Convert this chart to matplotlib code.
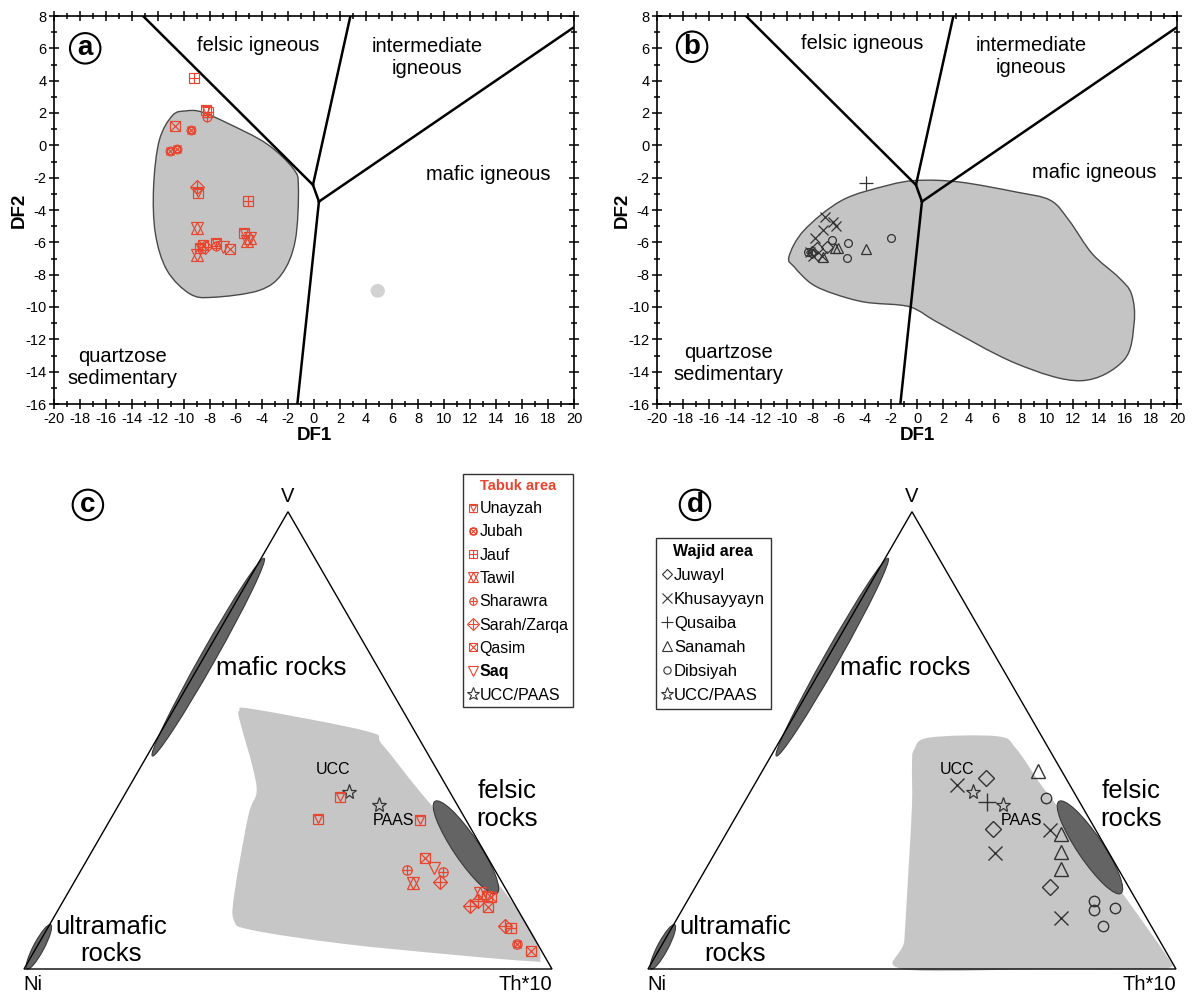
import numpy as np
import matplotlib.pyplot as plt
from matplotlib.path import Path
from matplotlib.patches import PathPatch, Ellipse, Polygon
from matplotlib.lines import Line2D
from matplotlib.legend_handler import HandlerTuple

plt.rcParams['font.family'] = ['Liberation Sans', 'DejaVu Sans']
plt.rcParams['axes.unicode_minus'] = False

RED = '#e8452f'
DARK = '#333333'
FIELD = '#c4c4c4'

# ---------------- DF1 / DF2 values, panel a (Tabuk area) ----------------
unayzah_df = [(-8.33, 2.19), (-8.9, -2.97), (-8.77, -6.37), (-7.54, -6.02), (-5.36, -5.44)]
jubah_df = [(-9.49, 0.95), (-11.08, -0.33), (-10.56, -0.2)]
jauf_df = [(-9.23, 4.17), (-8.18, 2.08), (-5.05, -3.42)]
tawil_df = [(-8.97, -5.13), (-9.02, -6.78), (-4.92, -5.71), (-5.15, -5.9)]
sharawra_df = [(-8.25, 1.77), (-7.55, -6.25)]
sarah_df = [(-8.97, -2.56), (-8.38, -6.27)]
qasim_df = [(-10.69, 1.2), (-8.55, -6.15), (-6.46, -6.43)]
saq_df = [(-7.03, -6.27)]

# ---------------- DF1 / DF2 values, panel b (Wajid area) ----------------
juwayl_df = [(-7.72, -6.37), (-6.95, -6.27), (-8.1, -6.58)]
khusayyayn_df = [(-7.08, -4.41), (-6.44, -4.72), (-6.23, -4.99), (-7.2, -5.23),
                 (-7.85, -5.75), (-8.23, -6.58), (-7.33, -6.84), (-7.98, -6.84)]
qusaiba_df = [(-3.92, -2.31)]
sanamah_df = [(-3.92, -6.43), (-6.31, -6.37), (-6.05, -6.37), (-7.2, -6.89)]
dibsiyah_df = [(-6.56, -5.85), (-5.33, -6.06), (-5.41, -6.99), (-2.0, -5.75),
               (-8.36, -6.58), (-8.1, -6.68)]

# discriminant field boundaries (DF1, DF2)
bound_felsic = [(-13.15, 8), (-0.08, -2.45)]
bound_inter = [(2.8, 8), (-0.08, -2.45), (0.38, -3.48)]
bound_mafic = [(0.38, -3.48), (19.95, 7.28)]
bound_quartz = [(0.38, -3.48), (-1.28, -16)]

# grey sample fields (DF1, DF2)
field_a = [(-9.84, 2.13), (-10.87, 1.86), (-11.9, 0.31), (-12.34, -2.58), (-12.2, -5.47),
           (-11.3, -7.74), (-9.54, -9.19), (-7.78, -9.4), (-4.24, -8.98), (-2.47, -7.95),
           (-1.44, -5.88), (-1.2, -2.58), (-1.6, -1.44), (-3.65, 0.1), (-6.6, 1.35),
           (-8.66, 2.07)]
field_b = [(-9.85, -6.9), (-8.69, -5.26), (-5.77, -3.4), (-2.27, -2.48), (0.06, -2.17),
           (3.27, -2.27), (7.64, -2.89), (10.26, -3.4), (11.7, -4.65), (13.47, -6.7),
           (15.5, -8.16), (16.5, -9.2), (16.7, -11.0), (15.9, -13.3), (12.6, -14.56),
           (7.64, -13.5), (1.81, -11.05), (0.06, -10.2), (-1.1, -9.9), (-4.0, -9.7),
           (-6.36, -9.19), (-8.1, -8.57), (-9.42, -7.54)]
blob_a = (4.9, -9.0)

# ---------------- ternary V-Ni-Th*10 values (Th*10, V fractions) ----------------
unayzah_tn = [(0.41, 0.376), (0.393, 0.328), (0.587, 0.325), (0.797, 0.159)]
jubah_tn = [(0.907, 0.055)]
jauf_tn = [(0.878, 0.09)]
tawil_tn = [(0.642, 0.188), (0.78, 0.167)]
sharawra_tn = [(0.617, 0.216), (0.688, 0.212)]
sarah_tn = [(0.693, 0.19), (0.776, 0.138), (0.786, 0.148), (0.864, 0.094)]
qasim_tn = [(0.638, 0.243), (0.806, 0.157), (0.812, 0.135), (0.941, 0.039)]
saq_tn = [(0.667, 0.22)]

juwayl_tn = [(0.431, 0.418), (0.501, 0.306), (0.671, 0.179)]
khusayyayn_tn = [(0.385, 0.402), (0.531, 0.253), (0.609, 0.303), (0.726, 0.111)]
qusaiba_tn = [(0.459, 0.365)]
sanamah_tn = [(0.523, 0.432), (0.634, 0.295), (0.654, 0.256), (0.672, 0.219)]
dibsiyah_tn = [(0.568, 0.373), (0.77, 0.149), (0.78, 0.129), (0.817, 0.134), (0.815, 0.094)]

ucc_tn = (0.422, 0.386)
paas_tn = (0.492, 0.359)

# ternary fields (Th*10, V fractions)
field_c = [(0.125, 0.565), (0.152, 0.568), (0.389, 0.52), (0.433, 0.491), (0.557, 0.387),
           (0.703, 0.269), (0.837, 0.159), (0.932, 0.07), (0.967, 0.022), (0.952, 0.017),
           (0.808, 0.03), (0.578, 0.055), (0.39, 0.085), (0.344, 0.107), (0.313, 0.173),
           (0.257, 0.336), (0.247, 0.387), (0.209, 0.446), (0.143, 0.535)]
field_d = [(0.264, 0.48), (0.279, 0.506), (0.407, 0.509), (0.455, 0.483), (0.535, 0.41),
           (0.574, 0.376), (0.699, 0.269), (0.84, 0.144), (0.971, 0.026), (0.988, 0.004),
           (0.95, 0.0), (0.75, 0.0), (0.482, 0.0), (0.454, 0.063), (0.388, 0.21),
           (0.321, 0.358), (0.277, 0.446)]
# source-rock ellipses: centre (Th*10, V), length, width, angle
ellipses = [((0.008, 0.682), 0.43, 0.028, 60.5),
            ((0.704, 0.266), 0.21, 0.048, -56),
            ((0.004, 0.0485), 0.095, 0.02, 62)]

# marker layers: (marker, relative size)
tabuk_style = {
    'Unayzah': [('s', 1.0), ('v', 0.8)],
    'Jubah': [('o', 0.9), ('x', 0.75), ('s', 0.65)],
    'Jauf': [('s', 1.0), ('+', 1.0)],
    'Tawil': [('^', 1.15), ('v', 1.15)],
    'Sharawra': [('o', 0.9), ('+', 0.95)],
    'Sarah/Zarqa': [('D', 1.0), ('+', 1.25)],
    'Qasim': [('s', 1.0), ('x', 1.0)],
    'Saq': [('v', 1.15)],
}
wajid_style = {
    'Juwayl': [('D', 0.8)],
    'Khusayyayn': [('x', 1.0)],
    'Qusaiba': [('+', 1.3)],
    'Sanamah': [('^', 1.0)],
    'Dibsiyah': [('o', 0.75)],
}


def tern(pts):
    p = np.asarray(pts, dtype=float).reshape(-1, 2)
    return p[:, 0] + p[:, 1] / 2, p[:, 1] * np.sqrt(3) / 2


def smooth_closed(x, y):
    pts = np.column_stack([x, y])
    n = len(pts)
    verts = [pts[0]]
    codes = [Path.MOVETO]
    for i in range(n):
        p0, p1, p2, p3 = pts[i - 1], pts[i], pts[(i + 1) % n], pts[(i + 2) % n]
        verts += [p1 + (p2 - p0) / 6, p2 - (p3 - p1) / 6, p2]
        codes += [Path.CURVE4] * 3
    verts.append(pts[0])
    codes.append(Path.CLOSEPOLY)
    return Path(verts, codes)


def draw(ax, x, y, layers, color, base, mew=0.9, z=5):
    for m, s in layers:
        ax.plot(x, y, ls='none', marker=m, ms=base * s, mfc='none', mec=color,
                mew=mew, zorder=z)


def circ_label(ax, x, y, s):
    ax.text(x, y, s, ha='center', va='center', fontsize=20, fontweight='bold',
            bbox=dict(boxstyle='circle,pad=0.08', fc='white', ec='black', lw=1.5),
            zorder=8)


fig = plt.figure(figsize=(11.93, 9.98), dpi=100)
W, H = 1193, 998

# ---------------- panels a and b ----------------
ax_a = fig.add_axes([54 / W, 1 - 404 / H, 520 / W, 388 / H])
ax_b = fig.add_axes([657 / W, 1 - 404 / H, 520 / W, 388 / H])

for ax, fld in ((ax_a, field_a), (ax_b, field_b)):
    fx, fy = zip(*fld)
    ax.add_patch(PathPatch(smooth_closed(fx, fy), fc=FIELD, ec='#4a4a4a', lw=1.0, zorder=1))
    for seg in (bound_felsic, bound_inter, bound_mafic, bound_quartz):
        sx, sy = zip(*seg)
        ax.plot(sx, sy, color='black', lw=1.8, zorder=3, solid_joinstyle='miter')
    ax.set_xlim(-20, 20)
    ax.set_ylim(-16, 8)
    ax.set_xticks(range(-20, 21, 2))
    ax.set_xticks(range(-20, 21, 1), minor=True)
    ax.set_yticks(range(-16, 9, 2))
    ax.set_yticks(range(-16, 9, 1), minor=True)
    ax.tick_params(which='both', direction='inout', top=True, right=True,
                   labelsize=10.5, width=1.1, pad=2)
    ax.tick_params(which='major', length=7)
    ax.tick_params(which='minor', length=5)
    for sp in ax.spines.values():
        sp.set_linewidth(1.2)
    ax.set_xlabel('DF1', fontsize=13.5, fontweight='bold')
    ax.set_ylabel('DF2', fontsize=13.5, fontweight='bold')
    ax.xaxis.set_label_coords(0.5, -0.06)
    ax.yaxis.set_label_coords(-0.05, 0.5)

ax_a.add_patch(Ellipse(blob_a, 1.1, 0.85, fc='#d2d2d2', ec='none', zorder=1))

txt = dict(fontsize=14.5, ha='center', va='center', zorder=6)
ax_a.text(-4.3, 6.15, 'felsic igneous', **txt)
ax_a.text(8.7, 5.45, 'intermediate\nigneous', **txt)
ax_a.text(13.4, -1.8, 'mafic igneous', **txt)
ax_a.text(-14.7, -13.75, 'quartzose\nsedimentary', **txt)
ax_b.text(-4.2, 6.3, 'felsic igneous', **txt)
ax_b.text(8.8, 5.5, 'intermediate\nigneous', **txt)
ax_b.text(13.6, -1.65, 'mafic igneous', **txt)
ax_b.text(-14.5, -13.5, 'quartzose\nsedimentary', **txt)
circ_label(ax_a, -17.6, 6.0, 'a')
circ_label(ax_b, -17.3, 6.1, 'b')

tabuk_df = [('Unayzah', unayzah_df), ('Jubah', jubah_df), ('Jauf', jauf_df),
            ('Tawil', tawil_df), ('Sharawra', sharawra_df), ('Sarah/Zarqa', sarah_df),
            ('Qasim', qasim_df), ('Saq', saq_df)]
for name, pts in tabuk_df:
    x, y = zip(*pts)
    draw(ax_a, x, y, tabuk_style[name], RED, 7, mew=0.85)

wajid_df = [('Juwayl', juwayl_df), ('Khusayyayn', khusayyayn_df), ('Qusaiba', qusaiba_df),
            ('Sanamah', sanamah_df), ('Dibsiyah', dibsiyah_df)]
for name, pts in wajid_df:
    x, y = zip(*pts)
    draw(ax_b, x, y, wajid_style[name], DARK, 7.5, mew=0.9)

# ---------------- ternary panels c and d ----------------
ax_c = fig.add_axes([0, 0, 600 / W, 528 / H])
ax_c.set_xlim(-24 / 528, 576 / 528)
ax_c.set_ylim(-29 / 528, 499 / 528)
ax_d = fig.add_axes([600 / W, 0, 593 / W, 528 / H])
ax_d.set_xlim(-48 / 528, 545 / 528)
ax_d.set_ylim(-29 / 528, 499 / 528)

for ax, fld in ((ax_c, field_c), (ax_d, field_d)):
    ax.axis('off')
    fx, fy = tern(fld)
    ax.add_patch(PathPatch(smooth_closed(fx, fy), fc='#c6c6c6', ec='none', zorder=1))
    for c, L, wd, ang in ellipses:
        cx, cy = tern(c)
        ax.add_patch(Ellipse((cx[0], cy[0]), L, wd, angle=ang, fc='#646464',
                             ec='#3a3a3a', lw=0.8, zorder=2))
    tx, ty = tern([(0, 0), (1, 0), (0, 1)])
    ax.add_patch(Polygon(np.column_stack([tx, ty]), closed=True, fill=False,
                         ec='black', lw=1.0, zorder=3))
    ax.text(0.5, 0.895, 'V', fontsize=14.5, ha='center', va='center')
    ax.text(0.017, -0.03, 'Ni', fontsize=14.5, ha='center', va='center')
    ax.text(0.949, -0.03, 'Th*10', fontsize=14.5, ha='center', va='center')
    big = dict(fontsize=18.5, ha='center', va='center', zorder=6)
    ax.text(0.487, 0.571, 'mafic rocks', **big)
    ax.text(0.914, 0.31, 'felsic\nrocks', **big)
    ax.text(0.165, 0.054, 'ultramafic\nrocks', **big)
    for pt in (ucc_tn, paas_tn):
        sx, sy = tern(pt)
        ax.plot(sx, sy, ls='none', marker='*', ms=11, mfc='none', mec=DARK,
                mew=0.9, zorder=5)

ax_c.text(0.586, 0.378, 'UCC', fontsize=11.5, ha='center', va='center', zorder=6)
ax_c.text(0.7, 0.282, 'PAAS', fontsize=11.5, ha='center', va='center', zorder=6)
ax_d.text(0.585, 0.378, 'UCC', fontsize=11.5, ha='center', va='center', zorder=6)
ax_d.text(0.708, 0.282, 'PAAS', fontsize=11.5, ha='center', va='center', zorder=6)
circ_label(ax_c, 0.121, 0.879, 'c')
circ_label(ax_d, 0.089, 0.879, 'd')

tabuk_tn = [('Unayzah', unayzah_tn), ('Jubah', jubah_tn), ('Jauf', jauf_tn),
            ('Tawil', tawil_tn), ('Sharawra', sharawra_tn), ('Sarah/Zarqa', sarah_tn),
            ('Qasim', qasim_tn), ('Saq', saq_tn)]
for name, pts in tabuk_tn:
    x, y = tern(pts)
    draw(ax_c, x, y, tabuk_style[name], RED, 7.5, mew=0.9)

wajid_tn = [('Juwayl', juwayl_tn), ('Khusayyayn', khusayyayn_tn), ('Qusaiba', qusaiba_tn),
            ('Sanamah', sanamah_tn), ('Dibsiyah', dibsiyah_tn)]
for name, pts in wajid_tn:
    x, y = tern(pts)
    draw(ax_d, x, y, wajid_style[name], DARK, 10, mew=1.0)


# ---------------- legends ----------------
def handle(layers, color, base):
    return tuple(Line2D([], [], ls='none', marker=m, ms=base * s, mfc='none', mec=color,
                        mew=0.8) for m, s in layers)


star = [('*', 1.3)]
h_c = [handle(tabuk_style[n], RED, 6) for n, _ in tabuk_tn] + [handle(star, DARK, 7.5)]
l_c = [n for n, _ in tabuk_tn] + ['UCC/PAAS']
leg_c = ax_c.legend(h_c, l_c, handler_map={tuple: HandlerTuple(ndivide=1, pad=0)},
                    loc='upper left', bbox_to_anchor=(463 / W, 1 - 474 / H),
                    bbox_transform=fig.transFigure, title='Tabuk area',
                    title_fontproperties={'weight': 'bold', 'size': 10.5},
                    prop={'size': 11.5}, fancybox=False, edgecolor='#333333',
                    framealpha=1, handlelength=0.6, handletextpad=0.12,
                    labelspacing=0.52, borderpad=0.3, borderaxespad=0)
leg_c.get_title().set_color(RED)
leg_c.get_frame().set_linewidth(1.0)
for t in leg_c.get_texts():
    if t.get_text() == 'Saq':
        t.set_fontweight('bold')

h_d = [handle(wajid_style[n], DARK, 7) for n, _ in wajid_tn] + [handle(star, DARK, 7.5)]
l_d = [n for n, _ in wajid_tn] + ['UCC/PAAS']
leg_d = ax_d.legend(h_d, l_d, handler_map={tuple: HandlerTuple(ndivide=1, pad=0)},
                    loc='upper left', bbox_to_anchor=(656 / W, 1 - 538 / H),
                    bbox_transform=fig.transFigure, title='Wajid area',
                    title_fontproperties={'weight': 'bold', 'size': 11.5},
                    prop={'size': 12}, fancybox=False, edgecolor='#333333',
                    framealpha=1, handlelength=0.6, handletextpad=0.12,
                    labelspacing=0.54, borderpad=0.35, borderaxespad=0)
leg_d.get_frame().set_linewidth(1.0)

fig.savefig('out.png', dpi=100)
